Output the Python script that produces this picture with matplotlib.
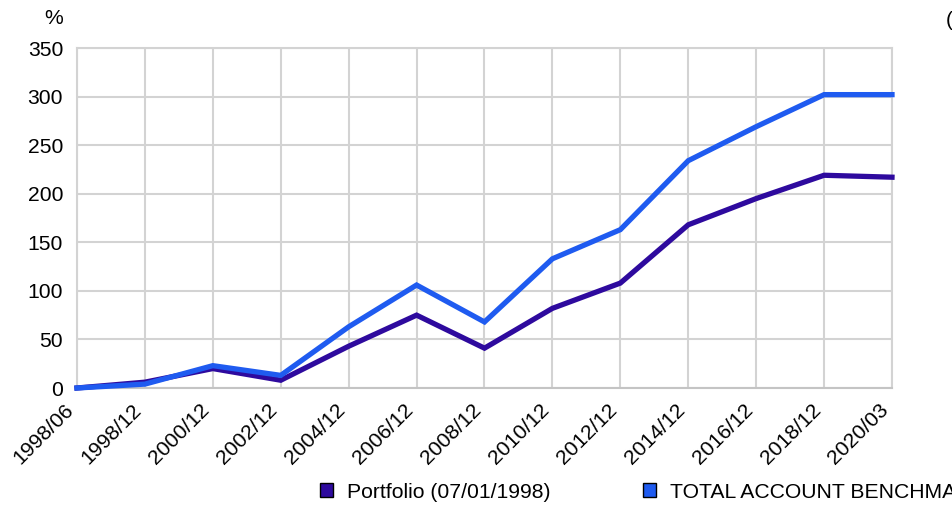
import matplotlib
matplotlib.use("Agg")
import matplotlib.pyplot as plt
from matplotlib.patches import Patch
from matplotlib.transforms import ScaledTranslation

plt.rcParams['font.family'] = ['Liberation Sans', 'DejaVu Sans']

categories = ["1998/06", "1998/12", "2000/12", "2002/12", "2004/12", "2006/12",
              "2008/12", "2010/12", "2012/12", "2014/12", "2016/12", "2018/12", "2020/03"]
portfolio = [0, 6, 20, 8, 43, 75, 41, 82, 108, 168, 195, 219, 217]
benchmark = [0, 4, 23, 13, 63, 106, 68, 133, 163, 234, 269, 302, 302]
yticks = [0, 50, 100, 150, 200, 250, 300, 350]
series_names = ["Portfolio (07/01/1998)", "TOTAL ACCOUNT BENCHMARK"]
colors = ["#2E0A9E", "#1F5BF0"]

FS = 15.2
W, H = 952, 511
fig = plt.figure(figsize=(W / 100, H / 100), dpi=100)
ax = fig.add_axes([77 / W, (H - 388) / H, (892 - 77) / W, (388 - 48) / H])

x = list(range(len(categories)))
ax.plot(x, portfolio, color=colors[0], lw=3.8, solid_joinstyle='miter', zorder=3, clip_on=False)
ax.plot(x, benchmark, color=colors[1], lw=3.8, solid_joinstyle='miter', zorder=4, clip_on=False)

ax.set_xlim(0, len(categories) - 1)
ax.set_ylim(0, 350)
ax.set_xticks(x)
ax.set_xticklabels(categories, rotation=45, ha='right', va='top', rotation_mode='anchor', fontsize=FS)
ax.set_yticks(yticks)
ax.set_yticklabels([str(v) for v in yticks], fontsize=FS)
ax.tick_params(axis='y', length=0, pad=10)
ax.tick_params(axis='x', length=0, pad=6)
off = ScaledTranslation(-13 / 100, -4 / 100, fig.dpi_scale_trans)
for lbl in ax.get_xticklabels():
    lbl.set_transform(lbl.get_transform() + off)
ax.grid(True, color="#D3D3D3", lw=1.5)
ax.set_axisbelow(True)
for s in ['left', 'right', 'top']:
    ax.spines[s].set_color("#D3D3D3")
    ax.spines[s].set_linewidth(1.5)
ax.spines['bottom'].set_color("#C4C4C4")
ax.spines['bottom'].set_linewidth(1.5)

fig.text(54 / W, 1 - 18 / H, "%", fontsize=FS, ha='center', va='center')
fig.text(946 / W, 1 - 20 / H, "(", fontsize=FS, ha='left', va='center')

handles = [Patch(facecolor=c, edgecolor='black', lw=1.0) for c in colors]
fig.legend(handles, series_names, loc='center left', bbox_to_anchor=(320 / W, 1 - 492 / H),
           ncol=2, frameon=False, fontsize=FS, handlelength=0.6, handleheight=0.6,
           handletextpad=0.66, columnspacing=4.4, borderpad=0, borderaxespad=0)

fig.savefig("out.png", dpi=100)
